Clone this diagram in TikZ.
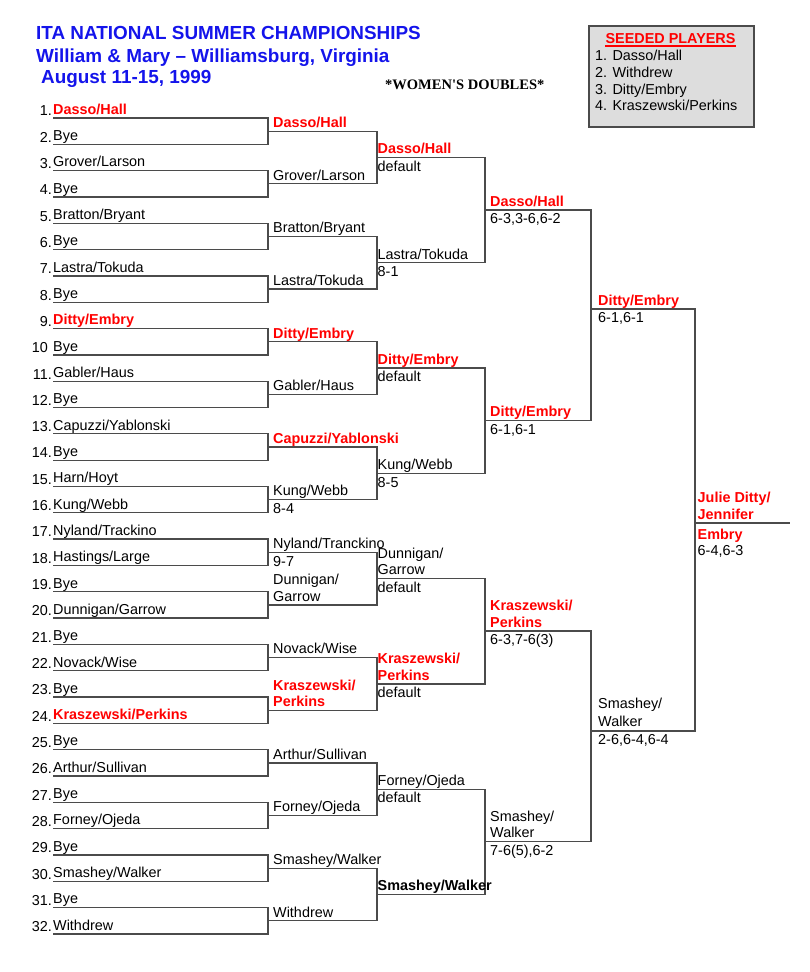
\documentclass[tikz,border=0pt]{standalone}
\usepackage{fontspec}
\setmainfont{Liberation Sans}
\newfontfamily\eventfont{Liberation Serif}
\usepackage{xcolor}
\usetikzlibrary{calc,positioning}
\definecolor{itablue}{RGB}{20,20,235}
\definecolor{seedred}{RGB}{255,0,0}
\definecolor{linegray}{RGB}{75,75,75}
\definecolor{boxgray}{RGB}{221,221,221}
\newcommand\drawfont{\fontsize{14.4}{16.5}\selectfont}
\tikzset{%
	team/.style     = {anchor=south west, inner sep=0pt, text depth=3.5pt, align=left, font=\drawfont}, % name above a line
	seeded/.style   = {team, text=seedred, font=\drawfont\bfseries}, % seeded team
	winner/.style   = {team, font=\drawfont\bfseries},
	score/.style    = {anchor=north west, inner sep=0pt, text height=10.5pt, yshift=-3pt, font=\drawfont}, % result under a line
	num/.style      = {anchor=south east, inner sep=0pt, text depth=2pt, font=\drawfont},
	bracketline/.style = {draw=linegray, line width=1.3pt},
	heading/.style  = {anchor=base west, inner sep=0pt, text=itablue, font=\fontsize{18.9}{22}\selectfont\bfseries},
	seedbox/.style  = {draw=linegray, fill=boxgray, line width=1.2pt, minimum width=165pt, minimum height=101pt},
	seeditem/.style = {anchor=base west, inner sep=0pt, font=\drawfont},
}

\begin{document}
\begin{tikzpicture}[x=1pt,y=-1pt]
	\useasboundingbox (0,0) rectangle (809,972);

	\node[heading] (title1) at (36,39.5) {ITA NATIONAL SUMMER CHAMPIONSHIPS};
	\node[heading] (title2) at (36,62.5) {William \& Mary – Williamsburg, Virginia};
	\node[heading] (title3) at (41,83.5) {August 11-15, 1999};
	\node[anchor=base west, inner sep=0pt, font=\fontsize{14.5}{16}\selectfont\eventfont\bfseries] (event) at (385,89) {*WOMEN'S DOUBLES*};

	\node[seedbox] (seeds) at (671.5,76.5) {};
	\node[seeditem, anchor=base, text=seedred, font=\drawfont\bfseries] (seedtitle) at (670.5,43.3) {SEEDED PLAYERS};
	\draw[seedred, line width=1.3pt] ([yshift=-2.7pt]seedtitle.base west) -- ([yshift=-2.7pt]seedtitle.base east);
	\foreach \i/\p in {1/{Dasso/Hall}, 2/Withdrew, 3/{Ditty/Embry}, 4/{Kraszewski/Perkins}}
		\node[seeditem] (seed-\i) at (595,{44+\i*16.67}) {\i. \p};

	% line positions of every round
	\foreach \k [evaluate=\k as \yy using {118+(\k-1)*26.32}] in {1,...,32}
		\coordinate (r1-\k) at (53,\yy);
	\foreach \r/\xx/\yy/\dy/\cnt in {2/268/131.2/52.64/16, 3/377/157.5/105.28/8, 4/485/210/210.56/4}
		\foreach \i in {1,...,\cnt}
			\coordinate (r\r-\i) at (\xx,{\yy+(\i-1)*\dy});
	\coordinate (r5-1) at (591,309);
	\coordinate (r5-2) at (591,731);
	\coordinate (r6-1) at (695,523);
	\coordinate (champ) at (790,523);

	% brackets
	\foreach \r/\cnt in {1/16,2/8,3/4,4/2,5/1}{
		\pgfmathtruncatemacro\nxt{\r+1}
		\foreach \i in {1,...,\cnt}{
			\pgfmathtruncatemacro\pa{2*\i-1}
			\pgfmathtruncatemacro\pb{2*\i}
			\draw[bracketline] (r\r-\pa) -| (r\nxt-\i) |- (r\r-\pb);
		}
	}
	\draw[bracketline] (r6-1) -- (champ);

	% first round
	\foreach \k in {1,...,9,11,12,...,32}
		\node[num] (n-\k) at ([xshift=-1pt]r1-\k) {\k.};
	\node[num] (n-10) at ([xshift=-5pt]r1-10) {10};
	\foreach \k/\txt/\sty in {1/{Dasso/Hall}/seeded, 2/Bye/team, 3/{Grover/Larson}/team, 4/Bye/team,
			5/{Bratton/Bryant}/team, 6/Bye/team, 7/{Lastra/Tokuda}/team, 8/Bye/team,
			9/{Ditty/Embry}/seeded, 10/Bye/team, 11/{Gabler/Haus}/team, 12/Bye/team,
			13/{Capuzzi/Yablonski}/team, 14/Bye/team, 15/{Harn/Hoyt}/team, 16/{Kung/Webb}/team,
			17/{Nyland/Trackino}/team, 18/{Hastings/Large}/team, 19/Bye/team, 20/{Dunnigan/Garrow}/team,
			21/Bye/team, 22/{Novack/Wise}/team, 23/Bye/team, 24/{Kraszewski/Perkins}/seeded,
			25/Bye/team, 26/{Arthur/Sullivan}/team, 27/Bye/team, 28/{Forney/Ojeda}/team,
			29/Bye/team, 30/{Smashey/Walker}/team, 31/Bye/team, 32/Withdrew/team}
		\node[\sty] (t1-\k) at (r1-\k) {\txt};

	% second round
	\foreach \i/\txt/\sty in {1/{Dasso/Hall}/seeded, 2/{Grover/Larson}/team, 3/{Bratton/Bryant}/team,
			4/{Lastra/Tokuda}/team, 5/{Ditty/Embry}/seeded, 6/{Gabler/Haus}/team,
			7/{Capuzzi/Yablonski}/seeded, 8/{Kung/Webb}/team, 9/{Nyland/Tranckino}/team,
			10/{Dunnigan/\\Garrow}/team, 11/{Novack/Wise}/team, 12/{Kraszewski/\\Perkins}/seeded,
			13/{Arthur/Sullivan}/team, 14/{Forney/Ojeda}/team, 15/{Smashey/Walker}/team, 16/Withdrew/team}
		\node[\sty, xshift=5pt] (t2-\i) at (r2-\i) {\txt};
	\node[score, xshift=5pt] (s2-8) at (r2-8) {8-4};
	\node[score, xshift=5pt] (s2-9) at (r2-9) {9-7};

	% third round
	\foreach \i/\txt/\sty/\res in {1/{Dasso/Hall}/seeded/default, 2/{Lastra/Tokuda}/team/8-1,
			3/{Ditty/Embry}/seeded/default, 4/{Kung/Webb}/team/8-5, 5/{Dunnigan/\\Garrow}/team/default,
			6/{Kraszewski/\\Perkins}/seeded/default, 7/{Forney/Ojeda}/team/default}{
		\node[\sty, xshift=0.5pt] (t3-\i) at (r3-\i) {\txt};
		\node[score, xshift=0.5pt] (s3-\i) at (r3-\i) {\res};
	}
	\node[winner, xshift=0.5pt] (t3-8) at (r3-8) {Smashey/Walker};

	% quarter finals
	\foreach \i/\txt/\sty/\res in {1/{Dasso/Hall}/seeded/{6-3,3-6,6-2}, 2/{Ditty/Embry}/seeded/{6-1,6-1},
			3/{Kraszewski/\\Perkins}/seeded/{6-3,7-6(3)}, 4/{Smashey/\\Walker}/team/{7-6(5),6-2}}{
		\node[\sty, xshift=5pt] (t4-\i) at (r4-\i) {\txt};
		\node[score, xshift=5pt] (s4-\i) at (r4-\i) {\res};
	}

	% semi finals and final
	\node[seeded, xshift=7pt] (t5-1) at (r5-1) {Ditty/Embry};
	\node[score, xshift=7pt] (s5-1) at (r5-1) {6-1,6-1};
	\node[team, xshift=7pt, text depth=4.5pt] (t5-2) at (r5-2) {Smashey/\\[1.5pt]Walker};
	\node[score, xshift=7pt] (s5-2) at (r5-2) {2-6,6-4,6-4};
	\node[seeded, xshift=2.5pt] (t6-1) at (r6-1) {Julie Ditty/\\Jennifer};
	\node[score, xshift=2.5pt, yshift=-2.5pt, text=seedred, font=\drawfont\bfseries] (e6-1) at (r6-1) {Embry};
	\node[score, xshift=2.5pt, yshift=-18.5pt] (s6-1) at (r6-1) {6-4,6-3};
\end{tikzpicture}
\end{document}
